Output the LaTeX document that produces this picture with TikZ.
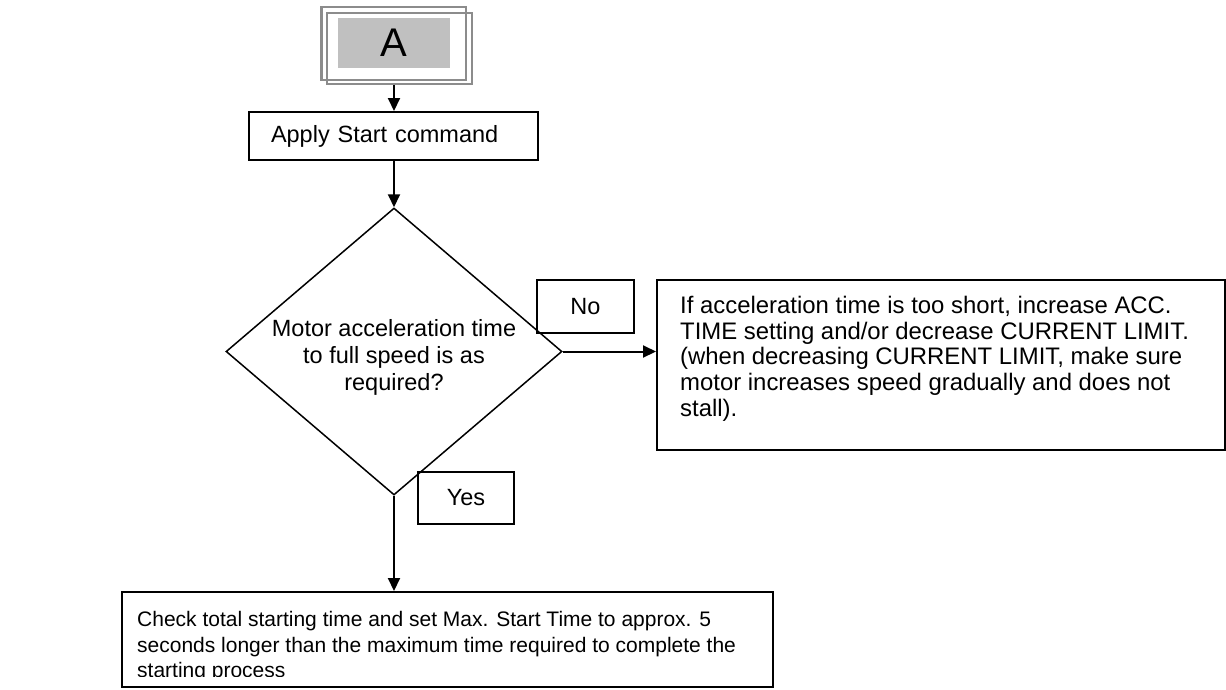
\documentclass[tikz,border=0pt]{standalone}
\usepackage{fontspec}
\setmainfont{Liberation Sans}
\usetikzlibrary{shapes.geometric,arrows.meta,calc}
\definecolor{framegray}{RGB}{140,140,140}
\definecolor{fillgray}{RGB}{192,192,192}
\begin{document}
\begin{tikzpicture}[x=1pt,y=-1pt,
  box/.style={draw=black,line width=2pt,inner sep=0pt},
  lbl/.style={box,font=\fontsize{23.5}{26}\selectfont},
  txt/.style={inner sep=0pt,align=left,anchor=north west},
  arr/.style={line width=2pt,-{Triangle[length=13pt,width=12pt]}},
  frame/.style={draw=framegray,line width=2.5pt,inner sep=0pt}]
\useasboundingbox (0,0) rectangle (1226,689);
\fill[white] (0,0) rectangle (1226,689);
% start connector "A"
\node[frame,minimum width=144.5pt,minimum height=73pt] (Aback) at (393.75,43.5) {};
\node[frame,minimum width=145pt,minimum height=71pt] (Aframe) at (399.5,48.5) {};
\node[fill=fillgray,minimum width=112pt,minimum height=50pt,inner sep=0pt,
      font=\fontsize{40}{40}\selectfont] (A) at (394,43) {A};
% apply
\node[box,minimum width=289pt,minimum height=48pt,text width=245pt,inner xsep=22pt,
      align=left,font=\fontsize{23.5}{26}\selectfont] (apply) at (393.5,136) {Apply Start command};
% decision
\node[draw,diamond,line width=1.5pt,minimum width=336pt,minimum height=287pt,inner sep=0pt] (dec) at (394,351.5) {};
\node[align=center,inner sep=0pt,font=\fontsize{23.5}{27.3}\selectfont] (dectxt) at ($(dec.center)+(0,5.9)$)
  {Motor acceleration time\\to full speed is as\\required?};
% labels
\node[lbl,minimum width=97pt,minimum height=53pt] (no) at (585.5,306.5) {No};
\node[lbl,minimum width=96pt,minimum height=52pt] (yes) at (466,498) {Yes};
% right advice box
\node[box,minimum width=568pt,minimum height=170pt] (adv) at (941,365) {};
\node[txt,font=\fontsize{23.9}{25.9}\selectfont] (advtxt) at (680,295.6)
  {If acceleration time is too short, increase ACC.\\TIME setting and/or decrease CURRENT LIMIT.\\(when decreasing CURRENT LIMIT, make sure\\motor increases speed gradually and does not\\stall).};
% bottom box
\node[box,minimum width=651pt,minimum height=95pt] (chk) at (447.5,639.5) {};
\begin{scope}
\clip (chk.north west) rectangle ($(chk.south east)+(0,-12)$);
\node[txt,font=\fontsize{21}{25.5}\selectfont] (chktxt) at (137,611.2)
  {Check total starting time and set Max. Start Time to approx. 5\\seconds longer than the maximum time required to complete the\\starting process};
\end{scope}
% connectors
\draw[arr] (Aframe.south -| A) -- (apply.north -| A);
\draw[arr] (apply.south -| dec) -- (dec.north);
\draw[arr] (dec.east) -- (dec.east -| adv.west);
\draw[arr] (dec.south) -- (dec.south |- chk.north);
\end{tikzpicture}
\end{document}
